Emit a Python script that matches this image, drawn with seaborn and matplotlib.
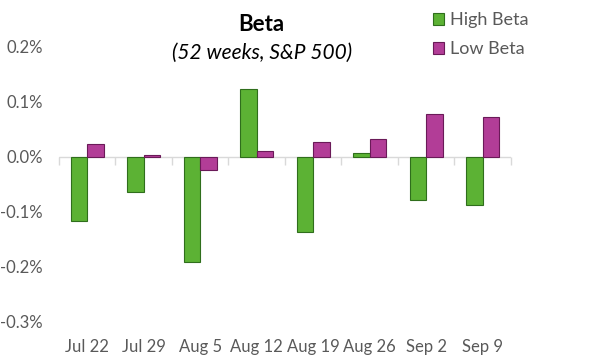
import matplotlib
matplotlib.use('Agg')
import matplotlib.pyplot as plt
from matplotlib.patches import Patch
import pandas as pd
import seaborn as sns

# weekly returns, in percent
weeks = ['Jul 22', 'Jul 29', 'Aug 5', 'Aug 12', 'Aug 19', 'Aug 26', 'Sep 2', 'Sep 9']
high_beta = [-0.116, -0.064, -0.191, 0.123, -0.137, 0.007, -0.079, -0.088]
low_beta = [0.023, 0.003, -0.023, 0.010, 0.027, 0.032, 0.078, 0.072]
yticks = [0.2, 0.1, 0.0, -0.1, -0.2, -0.3]

df = pd.DataFrame({'week': weeks * 2,
                   'ret': high_beta + low_beta,
                   'grp': ['High Beta'] * len(weeks) + ['Low Beta'] * len(weeks)})

sns.set_style('white')
plt.rcParams['font.family'] = ['Lato', 'DejaVu Sans']

fill = {'High Beta': '#5cb234', 'Low Beta': '#b23d97'}
edge = {'High Beta': '#2f6e1c', 'Low Beta': '#6a1a58'}
grey = '#595959'

fig = plt.figure(figsize=(5.99, 3.64), dpi=100)
ax = fig.add_axes([0.0985, 0.1154, 0.7545, 0.7555])

sns.barplot(data=df, x='week', y='ret', hue='grp', order=weeks,
            palette=fill, width=0.58, gap=0, saturation=1, ax=ax, legend=False)
for cont, g in zip(ax.containers, ['High Beta', 'Low Beta']):
    for bar in cont:
        bar.set_edgecolor(edge[g])
        bar.set_linewidth(0.8)

ax.set_xlim(-0.5, len(weeks) - 0.5)
ax.set_ylim(-0.3, 0.2)
ax.set_yticks(yticks)
ax.set_yticklabels(['%.1f%%' % v for v in yticks], color=grey, fontsize=12)
ax.set_xticks(range(len(weeks)))
ax.set_xticklabels(weeks, color=grey, fontsize=12)
ax.tick_params(axis='y', length=0, pad=11.5)
ax.tick_params(axis='x', length=0, pad=12)
ax.set_xlabel('')
ax.set_ylabel('')
for s in ax.spines.values():
    s.set_visible(False)

# zero line with category separators
ax.axhline(0, color='#d9d9d9', lw=1, zorder=0)
sec = ax.secondary_xaxis(0.6)
sec.set_xticks([i - 0.5 for i in range(len(weeks) + 1)])
sec.set_xticklabels([])
sec.tick_params(length=6, color='#d9d9d9', width=1, direction='in')
sec.spines['bottom'].set_visible(False)
sec.spines['top'].set_visible(False)

fig.text(0.437, 0.932, 'Beta', ha='center', va='center', fontsize=16, fontweight='bold', color='black')
fig.text(0.437, 0.855, '(52 weeks, S&P 500)', ha='center', va='center', fontsize=15, style='italic', color='black')

handles = [Patch(facecolor=fill[g], edgecolor=edge[g], lw=0.8, label=g) for g in ['High Beta', 'Low Beta']]
leg = fig.legend(handles=handles, loc='upper left', bbox_to_anchor=(0.695, 1.012), frameon=False,
                 fontsize=13, handlelength=0.65, handleheight=0.65, handletextpad=0.3, labelspacing=0.75)
for t in leg.get_texts():
    t.set_color(grey)

fig.savefig('out.png', dpi=100)
